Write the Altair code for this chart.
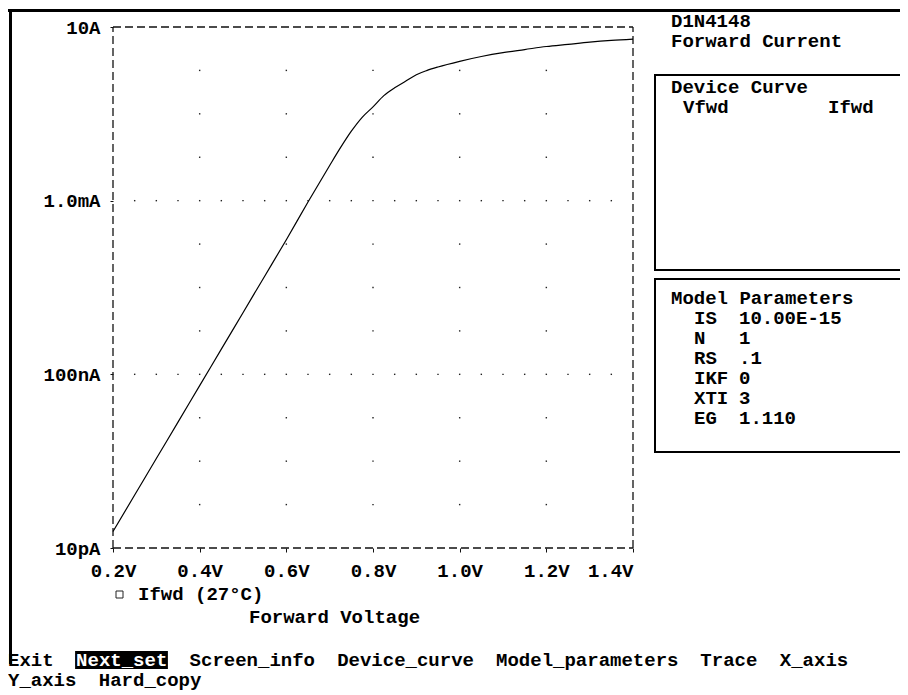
import altair as alt
import pandas as pd

# ---------------- data ----------------
volts = [0.20, 0.25, 0.30, 0.35, 0.40, 0.45, 0.50, 0.55, 0.60, 0.65, 0.70, 0.725,
         0.75, 0.775, 0.80, 0.825, 0.85, 0.875, 0.90, 0.925, 0.95, 1.00, 1.05,
         1.10, 1.15, 1.20, 1.25, 1.30, 1.35, 1.40]
amps = [2.40e-11, 1.66e-10, 1.15e-9, 7.94e-9, 5.50e-8, 3.80e-7, 2.63e-6, 1.82e-5,
        1.26e-4, 9.33e-4, 6.46e-3, 1.66e-2, 3.98e-2, 8.32e-2, 1.45e-1, 2.63e-1,
        3.98e-1, 5.62e-1, 7.94e-1, 1.00, 1.20, 1.62, 2.09, 2.57, 3.02, 3.55,
        3.98, 4.47, 4.90, 5.25]

x_ticks = [0.2, 0.4, 0.6, 0.8, 1.0, 1.2, 1.4]
x_tick_labels = ["0.2V", "0.4V", "0.6V", "0.8V", "1.0V", "1.2V", "1.4V"]
y_ticks = [1e-11, 1e-7, 1e-3, 10]
y_tick_labels = ["10pA", "100nA", "1.0mA", "10A"]

grid_cols = [0.4, 0.6, 0.8, 1.0, 1.2]
decade_rows = [1e-10, 1e-9, 1e-8, 1e-6, 1e-5, 1e-4, 1e-2, 1e-1, 1.0]
major_rows = [1e-7, 1e-3]
fine_cols = [0.25, 0.30, 0.35, 0.40, 0.45, 0.50, 0.55, 0.60, 0.65, 0.70, 0.75,
             0.80, 0.85, 0.90, 0.95, 1.00, 1.05, 1.10, 1.15, 1.20, 1.25, 1.30, 1.35]

title_lines = ["D1N4148", "Forward Current"]
device_lines = ["Device Curve"]
device_cols = ["Vfwd", "Ifwd"]
param_header = "Model Parameters"
param_names = ["IS", "N", "RS", "IKF", "XTI", "EG"]
param_values = ["10.00E-15", "1", ".1", "0", "3", "1.110"]
legend_label = "Ifwd (27°C)"
x_title = "Forward Voltage"
menu_row1 = ["Exit", "Next_set", "Screen_info", "Device_curve",
             "Model_parameters", "Trace", "X_axis"]
menu_row2 = ["Y_axis", "Hard_copy"]
menu_selected = "Next_set"

# ---------------- layout (page pixels) ----------------
OX, OY = 113, 27          # plot origin on page
W, H = 520, 521           # plot area
FONT = "Liberation Mono"
FS = 19
CW = 11.35                # character cell width

def px(x):
    return x - OX

def py(y):
    return y - OY

menu1_cols = [0, 6, 16, 29, 43, 61, 68]
menu2_cols = [0, 8]
MENU_X0 = 8
MENU_Y = [660, 680]
param_rows_y = [318, 338, 358, 378, 398, 418]

xs = alt.Scale(domain=[0.2, 1.4], nice=False, zero=False)
ys = alt.Scale(type="log", domain=[1e-11, 10], nice=False)

# label expressions built from the tick label lists
x_expr = ""
for v, lab in zip(x_ticks, x_tick_labels):
    x_expr += f"abs(datum.value - {v}) < 0.01 ? '{lab}' : "
x_expr += "''"
pairs = sorted(zip(y_ticks, y_tick_labels), reverse=True)
y_expr = ""
for v, lab in pairs[:-1]:
    y_expr += f"datum.value >= {v * 0.5} ? '{lab}' : "
y_expr += f"'{pairs[-1][1]}'"

x_axis = alt.Axis(values=x_ticks, labelExpr=x_expr, title=None, domain=False,
                  grid=False, ticks=True, tickSize=4, tickColor="#111",
                  labelFont=FONT, labelFontSize=FS, labelFontWeight="bold",
                  labelColor="black", labelPadding=18, labelBaseline="middle",
                  labelOverlap=False, labelBound=False, labelFlush=False,
                  labelAlign={"condition": {"test": "datum.value >= 1.39", "value": "right"},
                              "value": "center"})
y_axis = alt.Axis(values=y_ticks, labelExpr=y_expr, title=None, domain=False,
                  grid=False, ticks=True, tickSize=3, tickColor="#111",
                  labelFont=FONT, labelFontSize=FS, labelFontWeight="bold",
                  labelColor="black", labelPadding=10, labelBaseline="middle",
                  labelAlign="right", labelOverlap=False, labelBound=False,
                  labelFlush=False)

# ---------------- plot layers ----------------
curve_df = pd.DataFrame({"V": volts, "I": amps})
curve = alt.Chart(curve_df).mark_line(color="black", strokeWidth=1.2,
                                      interpolate="monotone").encode(
    x=alt.X("V:Q", scale=xs, axis=x_axis),
    y=alt.Y("I:Q", scale=ys, axis=y_axis),
)

dot_rows = []
for r in decade_rows:
    for c in grid_cols:
        dot_rows.append({"V": c, "I": r})
for r in major_rows:
    for c in fine_cols:
        dot_rows.append({"V": c, "I": r})
dots = alt.Chart(pd.DataFrame(dot_rows)).mark_square(size=2, color="#222", opacity=1).encode(
    x=alt.X("V:Q", scale=xs, axis=x_axis),
    y=alt.Y("I:Q", scale=ys, axis=y_axis),
)

hframe = alt.Chart(pd.DataFrame({"I": [y_ticks[0], y_ticks[-1]],
                                 "V": [x_ticks[0]] * 2, "V2": [x_ticks[-1]] * 2})
                   ).mark_rule(color="#111", strokeWidth=1.3, strokeDash=[8, 4]).encode(
    x=alt.X("V:Q", scale=xs, axis=x_axis), x2="V2:Q",
    y=alt.Y("I:Q", scale=ys, axis=y_axis),
)
vframe = alt.Chart(pd.DataFrame({"V": [x_ticks[0], x_ticks[-1]],
                                 "I": [y_ticks[0]] * 2, "I2": [y_ticks[-1]] * 2})
                   ).mark_rule(color="#111", strokeWidth=1.3, strokeDash=[8, 4]).encode(
    x=alt.X("V:Q", scale=xs, axis=x_axis),
    y=alt.Y("I:Q", scale=ys, axis=y_axis), y2="I2:Q",
)

# ---------------- screen decoration ----------------
def pix_enc(xf="x", yf="y"):
    return dict(x=alt.X(f"{xf}:Q", scale=None, axis=None),
                y=alt.Y(f"{yf}:Q", scale=None, axis=None))

border = alt.Chart(pd.DataFrame({
    "x": [px(8), px(10.5)], "x2": [px(930), px(10.5)],
    "y": [py(10.5), py(9)], "y2": [py(10.5), py(664)]})).mark_rule(
    color="black", strokeWidth=3).encode(
    x=alt.X("x:Q", scale=None, axis=None), x2="x2:Q",
    y=alt.Y("y:Q", scale=None, axis=None), y2="y2:Q")

boxes = alt.Chart(pd.DataFrame({
    "x": [px(655), px(655)], "x2": [px(940), px(940)],
    "y": [py(75), py(279)], "y2": [py(270), py(452)]})).mark_rect(
    fill=None, stroke="black", strokeWidth=2).encode(
    x=alt.X("x:Q", scale=None, axis=None), x2="x2:Q",
    y=alt.Y("y:Q", scale=None, axis=None), y2="y2:Q")

legend_box = alt.Chart(pd.DataFrame({
    "x": [px(116)], "x2": [px(123)], "y": [py(591)], "y2": [py(598)]})).mark_rect(
    fill=None, stroke="#222", strokeWidth=1).encode(
    x=alt.X("x:Q", scale=None, axis=None), x2="x2:Q",
    y=alt.Y("y:Q", scale=None, axis=None), y2="y2:Q")

sel_i = menu_row1.index(menu_selected)
sel_x = MENU_X0 + menu1_cols[sel_i] * CW
highlight = alt.Chart(pd.DataFrame({
    "x": [px(sel_x - 1)], "x2": [px(sel_x + len(menu_selected) * CW + 1)],
    "y": [py(MENU_Y[0] - 9)], "y2": [py(MENU_Y[0] + 9)]})).mark_rect(color="black").encode(
    x=alt.X("x:Q", scale=None, axis=None), x2="x2:Q",
    y=alt.Y("y:Q", scale=None, axis=None), y2="y2:Q")

texts = []
texts.append((title_lines[0], 671, 21))
texts.append((title_lines[1], 671, 41))
texts.append((device_lines[0], 671, 87))
texts.append((device_cols[0], 683, 107))
texts.append((device_cols[1], 828, 107))
texts.append((param_header, 671, 298))
for n, v, yy in zip(param_names, param_values, param_rows_y):
    texts.append((n, 694, yy))
    texts.append((v, 739, yy))
texts.append((legend_label, 138, 594))
texts.append((x_title, 249, 617))
for w, c in zip(menu_row1, menu1_cols):
    if w != menu_selected:
        texts.append((w, MENU_X0 + c * CW, MENU_Y[0]))
for w, c in zip(menu_row2, menu2_cols):
    texts.append((w, MENU_X0 + c * CW, MENU_Y[1]))

text_df = pd.DataFrame({"t": [t[0] for t in texts],
                        "x": [px(t[1]) for t in texts],
                        "y": [py(t[2]) for t in texts]})
text_layer = alt.Chart(text_df).mark_text(
    align="left", baseline="middle", font=FONT, fontSize=FS,
    fontWeight="bold", color="black").encode(**pix_enc(), text="t:N")

sel_df = pd.DataFrame({"t": [menu_selected], "x": [px(sel_x)], "y": [py(MENU_Y[0])]})
sel_text = alt.Chart(sel_df).mark_text(
    align="left", baseline="middle", font=FONT, fontSize=FS,
    fontWeight="bold", color="white").encode(**pix_enc(), text="t:N")

chart = alt.layer(
    dots, hframe, vframe, curve,
    border, boxes, legend_box, highlight, text_layer, sel_text,
).properties(
    width=W, height=H,
    autosize=alt.AutoSizeParams(type="none"),
    padding={"left": OX - 8, "top": OY - 8, "right": 900 - OX - W, "bottom": 695 - OY - H},
    background="white",
).configure_view(stroke=None)

chart.save("out.html", embed_options={"renderer": "svg", "actions": False})
